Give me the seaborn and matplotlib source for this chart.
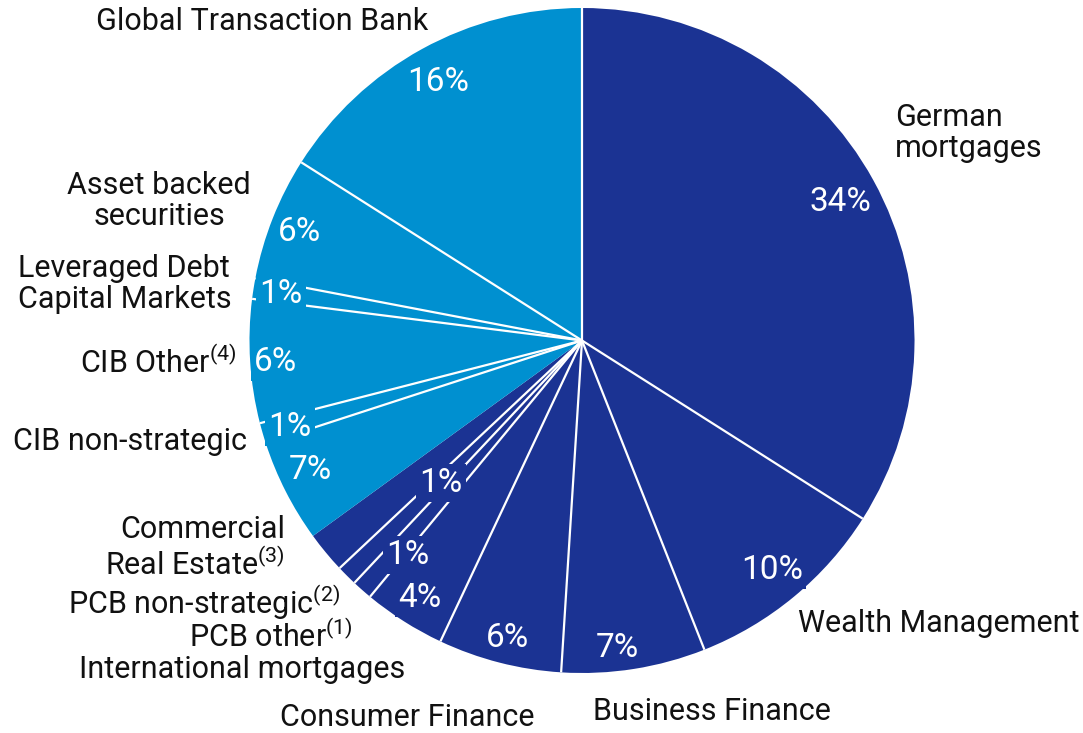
import numpy as np
import matplotlib
matplotlib.use("Agg")
import matplotlib.pyplot as plt
import seaborn as sns

# ---- data (clockwise from 12 o'clock) ----
segments = ["German mortgages", "Wealth Management", "Business Finance",
            "Consumer Finance", "International mortgages", "PCB other",
            "PCB non-strategic", "Commercial Real Estate (PCB)",
            "Commercial Real Estate (CIB)", "CIB non-strategic", "CIB Other",
            "Leveraged Debt Capital Markets", "Asset backed securities",
            "Global Transaction Bank"]
shares = [34, 10, 7, 6, 4, 1, 1, 2, 5, 1, 6, 1, 6, 16]
pct_labels = ["34%", "10%", "7%", "6%", "4%", "1%", "1%", "",
              "7%", "1%", "6%", "1%", "6%", "16%"]
group = ["PCB"] * 8 + ["CIB"] * 6

outer_labels = ["German\nmortgages", "Wealth Management", "Business Finance",
                "Consumer Finance", "International mortgages",
                r"PCB other$^{\mathregular{(1)}}$",
                r"PCB non-strategic$^{\mathregular{(2)}}$",
                "Commercial\n" + r"Real Estate$^{\mathregular{(3)}}$",
                "CIB non-strategic", r"CIB Other$^{\mathregular{(4)}}$",
                "Leveraged Debt\nCapital Markets", "Asset backed\nsecurities",
                "Global Transaction Bank"]

# ---- styling / layout ----
W, H = 1083, 733
DARK = "#1B3393"
LIGHT = "#0090D0"
palette = {"PCB": DARK, "CIB": LIGHT}
cx, cy, R = 582, 340.5, 332.5

# pixel positions of percentage labels (x, y from top)
pct_pos = [(840, 202), (772, 570), (617, 648), (507, 638), (420, 598),
           (408, 555), (441, 483), None, (310, 470), (290, 427),
           (276, 362), (281, 294), (300, 232), (438, 82)]
# outer label positions: (x, y, ha)
outer_pos = [(895, 133, "left"), (798, 624, "left"), (593, 712, "left"),
             (535, 718, "right"), (405, 670, "right"), (353, 636, "right"),
             (340, 602, "right"), (285, 548, "right"), (247, 442, "right"),
             (237, 362, "right"), (18, 284, "left"), (159, 201, "center"),
             (262, 22, "center")]

sns.set_theme(style="white")
plt.rcParams["font.family"] = ["Roboto", "DejaVu Sans"]

fig = plt.figure(figsize=(W / 100, H / 100), dpi=100)
ax = fig.add_axes([(cx - R) / W, (H - cy - R) / H, 2 * R / W, 2 * R / H])

colors = [palette[g] for g in group]
wedges, _ = ax.pie(shares, colors=colors, startangle=90, counterclock=False,
                   radius=1, wedgeprops=dict(linewidth=0, edgecolor="none",
                                             antialiased=True))
ax.set_xlim(-1, 1)
ax.set_ylim(-1, 1)
ax.set_aspect("equal")
ax.axis("off")

# white divider lines along wedge boundaries (none between PCB and CIB at lower left)
cum = np.cumsum([0] + shares)
total = cum[-1]
for i in range(len(shares)):
    ang = np.deg2rad(90 - 360 * cum[i] / total)
    if i > 0 and group[i] != group[i - 1]:
        continue
    ax.plot([0, np.cos(ang)], [0, np.sin(ang)], color="white", lw=1.6,
            solid_capstyle="butt", zorder=3)


def fpos(x, y):
    return x / W, 1 - y / H


for txt, pos, g in zip(pct_labels, pct_pos, group):
    if pos is None or not txt:
        continue
    fx, fy = fpos(*pos)
    fig.text(fx, fy, txt, color="white", fontsize=24, ha="center",
             va="center", zorder=5,
             bbox=dict(boxstyle="square,pad=0.1", fc=palette[g], ec="none"))

for txt, (x, y, ha) in zip(outer_labels, outer_pos):
    fx, fy = fpos(x, y)
    fig.text(fx, fy, txt, color="#111111", fontsize=22, ha=ha, va="center",
             linespacing=1.13, multialignment=ha if ha != "center" else "center")

fig.savefig("out.png", dpi=100, facecolor="white")
